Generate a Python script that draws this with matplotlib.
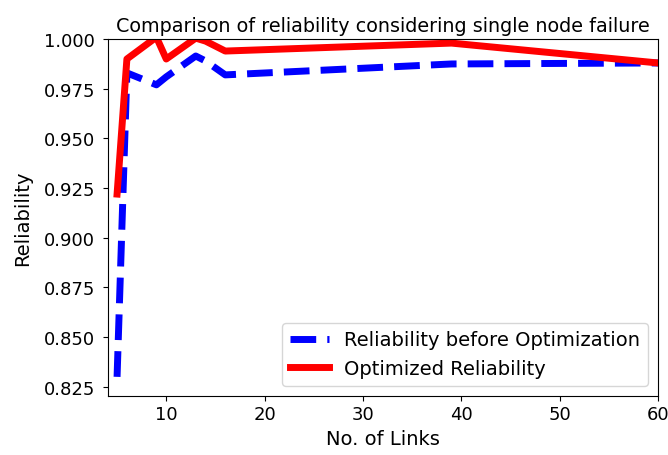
import numpy as np
import matplotlib
matplotlib.use('Agg')
import matplotlib.pyplot as plt

links = [5, 6, 9, 10, 13, 14, 16, 39, 60]
rel_before = [0.830, 0.983, 0.977, 0.981, 0.9915, 0.989, 0.982, 0.9875, 0.988]
rel_opt = [0.922, 0.990, 1.001, 0.990, 1.0005, 0.999, 0.994, 0.998, 0.988]
y_ticks = [0.825, 0.850, 0.875, 0.900, 0.925, 0.950, 0.975, 1.000]

plt.rcParams['font.size'] = 14

fig = plt.figure(figsize=(6.68, 4.56), dpi=100)
ax = fig.add_axes([0.162, 0.13, 0.823, 0.782])
ax.plot(links, rel_before, 'b--', linewidth=5, label='Reliability before Optimization')
ax.plot(links, rel_opt, 'r-', linewidth=5, label='Optimized Reliability')
ax.set_xlim(4.1, 60)
ax.set_ylim(0.8205, 1.0)
ax.set_yticks(y_ticks)
ax.set_yticklabels(['%.3f' % v for v in y_ticks])
ax.tick_params(labelsize=13)
ax.tick_params(axis='y', pad=6)
ax.set_title('Comparison of reliability considering single node failure', fontsize=13.8)
ax.set_xlabel('No. of Links')
ax.set_ylabel('Reliability', labelpad=8)
ax.legend(loc='lower right')
fig.savefig('out.png')
